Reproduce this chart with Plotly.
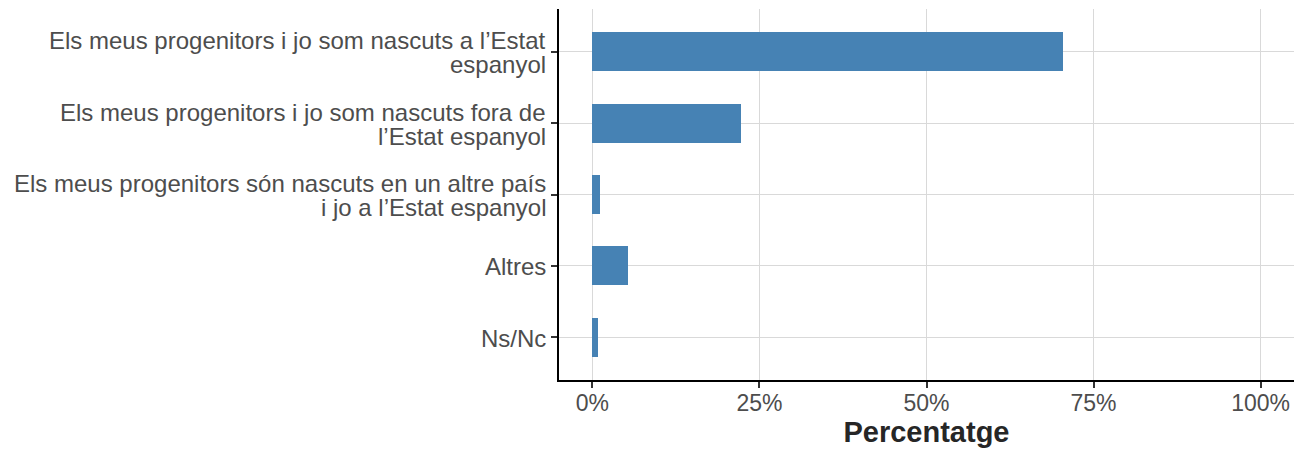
import plotly.graph_objects as go

# Survey answers (top to bottom), each split into its display lines
label_lines = [
    ["Els meus progenitors i jo som nascuts a l’Estat", "espanyol"],
    ["Els meus progenitors i jo som nascuts fora de", "l’Estat espanyol"],
    ["Els meus progenitors són nascuts en un altre país", "i jo a l’Estat espanyol"],
    ["Altres"],
    ["Ns/Nc"],
]
categories = [" ".join(lines) for lines in label_lines]

# Share of respondents in percent
percentages = [70.5, 22.3, 1.2, 5.3, 0.8]

tick_values = [0, 25, 50, 75, 100]
tick_labels = ["0%", "25%", "50%", "75%", "100%"]

FONT = "Liberation Sans, Arial, sans-serif"
LABEL_SIZE = 24
LINE_STEP = 24  # px between lines of a wrapped category label

fig = go.Figure(
    go.Bar(
        x=percentages,
        y=categories,
        orientation="h",
        width=0.55,
        marker=dict(color="#4682B4", line=dict(width=0)),
        hoverinfo="x+y",
    )
)

# Category labels with tight line spacing, one annotation per line
annotations = []
for cat, lines in zip(categories, label_lines):
    n = len(lines)
    for i, line in enumerate(lines):
        annotations.append(
            dict(
                text=line,
                xref="paper",
                x=0,
                xanchor="right",
                xshift=-11,
                yref="y",
                y=cat,
                yanchor="middle",
                yshift=((n - 1) / 2 - i) * LINE_STEP - 1,
                showarrow=False,
                font=dict(family=FONT, size=LABEL_SIZE, color="#4d4d4d"),
            )
        )

fig.update_layout(
    width=1296,
    height=449,
    margin=dict(l=559, r=2, t=9, b=69),
    paper_bgcolor="white",
    plot_bgcolor="white",
    font=dict(family=FONT, color="#4d4d4d"),
    showlegend=False,
    bargap=0,
    annotations=annotations,
)

fig.update_xaxes(
    range=[-5, 105],
    tickvals=tick_values,
    ticktext=tick_labels,
    tickfont=dict(size=23, color="#4d4d4d"),
    ticks="outside",
    ticklen=6,
    tickwidth=2,
    tickcolor="#333333",
    ticklabelstandoff=-5,
    showline=True,
    linecolor="black",
    linewidth=2,
    showgrid=True,
    gridcolor="#d9d9d9",
    gridwidth=1,
    zeroline=False,
    title=dict(
        text="<b>Percentatge</b>",
        font=dict(family=FONT, size=29, color="#262626"),
        standoff=2,
    ),
)

fig.update_yaxes(
    type="category",
    categoryorder="array",
    categoryarray=categories,
    range=[4.6, -0.6],
    showticklabels=False,
    ticks="outside",
    ticklen=6,
    tickwidth=2,
    tickcolor="#333333",
    showline=True,
    linecolor="black",
    linewidth=2,
    showgrid=True,
    gridcolor="#d9d9d9",
    gridwidth=1,
    zeroline=False,
)

fig.write_html("out.html")
